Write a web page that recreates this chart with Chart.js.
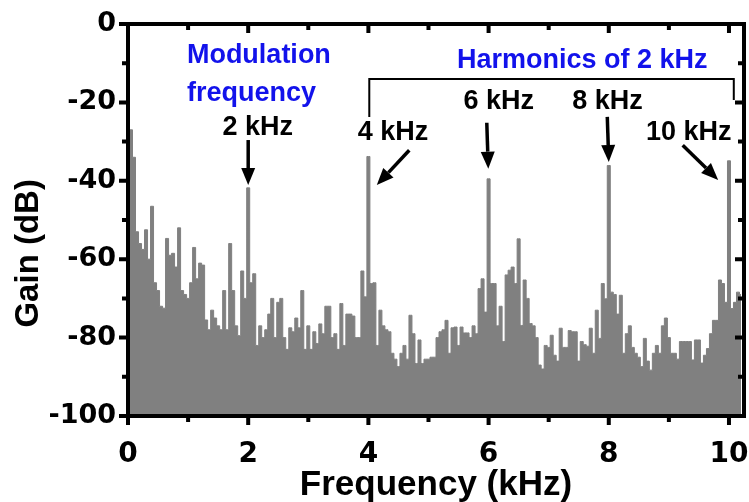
<!DOCTYPE html>
<html>
<head>
<meta charset="utf-8">
<script src="https://cdn.jsdelivr.net/npm/chart.js@4/dist/chart.umd.min.js"></script>
<style>
  body { margin: 0; background: #fff; }
</style>
</head>
<body>
<canvas id="spectrumChart" width="749" height="502"></canvas>
<script>
// spectrum sampled every 0.05 kHz, one array per 2 kHz band (gain in dB)
const freqStep = 0.05;
const gainBand0 = [-88, -27, -34, -53, -56, -57.5, -52.5, -60, -46.5, -66,
  -68, -72, -72.5, -54.7, -59, -58.5, -62, -52, -68, -69,
  -70, -66, -57, -65, -61, -61.5, -75.5, -78, -73, -75,
  -77, -78, -68, -78, -56, -68, -77, -79.5, -63, -70];
const gainBand1 = [-41.8, -66, -63.7, -82, -77, -80, -78, -74, -70, -80,
  -71, -70, -80, -83, -77.5, -78.5, -75, -77.5, -68, -83,
  -77, -83, -78.5, -81.5, -76.5, -79, -72, -72, -80, -79,
  -83, -71.3, -82, -74, -74, -74.5, -80, -80, -63, -69.6];
const gainBand2 = [-33.8, -66.2, -66, -82, -73, -77, -78, -78.5, -84, -85.5,
  -87.4, -84, -82, -85.5, -74.3, -79, -86.6, -80.6, -86.6, -85.5,
  -85.5, -85, -85, -80, -78.5, -78, -75.6, -84, -77.5, -77.3,
  -82, -77.3, -78.8, -78.8, -80, -77, -79, -67.5, -65, -73.5];
const gainBand3 = [-39.5, -66.2, -66.2, -77, -72, -81, -64, -62.8, -62, -66.2,
  -54.8, -76.9, -65.3, -70, -76.4, -77, -80, -87, -88, -82,
  -82.5, -79.4, -84.5, -86, -77.6, -82.5, -82.5, -78.2, -78.5, -78.5,
  -86, -81, -81.8, -82.2, -77.6, -84, -73, -80.2, -66.2, -70.1];
const gainBand4 = [-36.1, -68.4, -69, -74, -69.2, -84, -79, -77, -82.5, -84,
  -85, -87.4, -80.2, -86, -88.3, -84, -82, -84, -77, -75,
  -80, -84, -84, -85.5, -81, -81, -81, -81, -85.7, -80.6,
  -80.6, -86.5, -84.5, -82.8, -79, -75.6, -75.6, -65.3, -66.2, -71,
  -34.9, -72.6, -71, -68.4, -69];

const xTickValues = [0, 2, 4, 6, 8, 10];
const yTickValues = [-100, -80, -60, -40, -20, 0];
const yTitle = 'Gain (dB)';

// annotation texts: [text, freq, dB, align, colour]
const blue = 'rgb(18,18,235)';
const noteLabels = [
  ['Modulation', 0.98, -10, 'left', blue],
  ['frequency', 0.98, -19.7, 'left', blue],
  ['Harmonics of 2 kHz', 7.56, -11.2, 'center', blue],
  ['2 kHz', 2.16, -28.4, 'center', '#000'],
  ['4 kHz', 4.41, -29.5, 'center', '#000'],
  ['6 kHz', 6.17, -21.8, 'center', '#000'],
  ['8 kHz', 7.98, -21.8, 'center', '#000'],
  ['10 kHz', 9.33, -29.5, 'center', '#000']
];
// arrows: [fromFreq, fromDb, toFreq, toDb]
const noteArrows = [
  [2.0, -29.6, 2.0, -41.1],
  [4.68, -32.2, 4.14, -41.1],
  [5.97, -25.2, 5.995, -36.9],
  [7.975, -23.7, 8.0, -35.2],
  [9.23, -30.9, 9.82, -39.8]
];
// bracket over the harmonics: [freq, dB] path
const bracketPath = [[4.015, -23.7], [4.015, -14.05], [10.08, -14.05], [10.08, -19.4]];

const allGain = [...gainBand0, ...gainBand1, ...gainBand2, ...gainBand3, ...gainBand4];
const points = allGain.map((g, i) => ({x: +(i * freqStep).toFixed(2), y: g}));

const tickFont = {family: '"DejaVu Sans", sans-serif', weight: 'bold'};
const titleFont = {family: '"Liberation Sans", Arial, sans-serif', weight: 'bold', size: 35};

// frame, tick marks, y title and the text notes
const decorPlugin = {
  id: 'decor',
  afterDatasetsDraw(chart) {
    const {ctx, chartArea: a, scales: {x, y}} = chart;
    ctx.save();
    ctx.strokeStyle = '#000';
    ctx.lineWidth = 4;
    ctx.strokeRect(a.left, a.top, a.right - a.left, a.bottom - a.top);

    // ticks: outward on bottom/left, inward on top/right
    for (let v = 0; v <= 10; v++) {
      const px = x.getPixelForValue(v);
      const len = v % 2 === 0 ? 9 : 6;
      ctx.beginPath();
      ctx.moveTo(px, a.bottom); ctx.lineTo(px, a.bottom + len);
      if (v > 0) { ctx.moveTo(px, a.top); ctx.lineTo(px, a.top + len); }
      ctx.stroke();
    }
    for (let v = -100; v <= 0; v += 10) {
      const py = y.getPixelForValue(v);
      const len = v % 20 === 0 ? 9 : 6;
      ctx.beginPath();
      ctx.moveTo(a.left, py); ctx.lineTo(a.left - len, py);
      if (v > -100 && v < 0) { ctx.moveTo(a.right, py); ctx.lineTo(a.right - len, py); }
      ctx.stroke();
    }

    // bracket
    ctx.lineWidth = 2;
    ctx.beginPath();
    bracketPath.forEach(([f, d], i) => {
      const px = x.getPixelForValue(f), py = y.getPixelForValue(d);
      if (i === 0) ctx.moveTo(px, py); else ctx.lineTo(px, py);
    });
    ctx.stroke();

    // arrows
    ctx.fillStyle = '#000';
    noteArrows.forEach(([f0, d0, f1, d1]) => {
      const x0 = x.getPixelForValue(f0), y0 = y.getPixelForValue(d0);
      const x1 = x.getPixelForValue(f1), y1 = y.getPixelForValue(d1);
      const ang = Math.atan2(y1 - y0, x1 - x0);
      const head = 17, half = 7;
      const bx = x1 - head * Math.cos(ang), by = y1 - head * Math.sin(ang);
      ctx.lineWidth = 3.5;
      ctx.beginPath();
      ctx.moveTo(x0, y0); ctx.lineTo(bx, by);
      ctx.stroke();
      ctx.beginPath();
      ctx.moveTo(x1, y1);
      ctx.lineTo(bx + half * Math.sin(ang), by - half * Math.cos(ang));
      ctx.lineTo(bx - half * Math.sin(ang), by + half * Math.cos(ang));
      ctx.closePath();
      ctx.fill();
    });

    // texts
    ctx.font = 'bold 27px "Liberation Sans", Arial, sans-serif';
    ctx.textBaseline = 'alphabetic';
    noteLabels.forEach(([txt, f, d, align, col]) => {
      ctx.fillStyle = col;
      ctx.textAlign = align;
      ctx.fillText(txt, x.getPixelForValue(f), y.getPixelForValue(d));
    });

    // y axis title, sits a bit below the middle of the axis
    ctx.fillStyle = '#000';
    ctx.font = 'bold 33px "Liberation Sans", Arial, sans-serif';
    ctx.textAlign = 'center';
    ctx.textBaseline = 'middle';
    ctx.translate(29, y.getPixelForValue(-58.5));
    ctx.rotate(-Math.PI / 2);
    ctx.fillText(yTitle, 0, 0);
    ctx.restore();
  }
};

const ctx = document.getElementById('spectrumChart');
new Chart(ctx, {
  type: 'line',
  data: {
    datasets: [{
      data: points,
      stepped: 'middle',
      fill: 'start',
      backgroundColor: '#808080',
      borderColor: '#808080',
      borderWidth: 1,
      pointRadius: 0
    }]
  },
  options: {
    responsive: false,
    animation: false,
    layout: {padding: {top: 24, right: 5, left: 0, bottom: 0}},
    plugins: {
      legend: {display: false},
      tooltip: {enabled: false}
    },
    scales: {
      x: {
        type: 'linear',
        min: 0,
        max: 10.25,
        grid: {display: false, drawTicks: false},
        border: {display: false},
        afterBuildTicks: s => { s.ticks = xTickValues.map(v => ({value: v})); },
        afterFit: s => { s.height = 86; s.paddingLeft = 0; s.paddingRight = 0; },
        ticks: {
          color: '#000',
          font: {...tickFont, size: 28},
          padding: 22,
          maxRotation: 0,
          autoSkip: false
        },
        title: {
          display: true,
          text: 'Frequency (kHz)',
          color: '#000',
          font: titleFont,
          padding: {top: 0, bottom: -4}
        }
      },
      y: {
        min: -100,
        max: 0,
        grid: {display: false, drawTicks: false},
        border: {display: false},
        afterBuildTicks: s => { s.ticks = yTickValues.map(v => ({value: v})); },
        afterFit: s => { s.width = 128; s.paddingTop = 0; s.paddingBottom = 0; },
        ticks: {
          color: '#000',
          font: {...tickFont, size: 27},
          padding: 12
        }
      }
    }
  },
  plugins: [decorPlugin]
});
</script>
</body>
</html>
